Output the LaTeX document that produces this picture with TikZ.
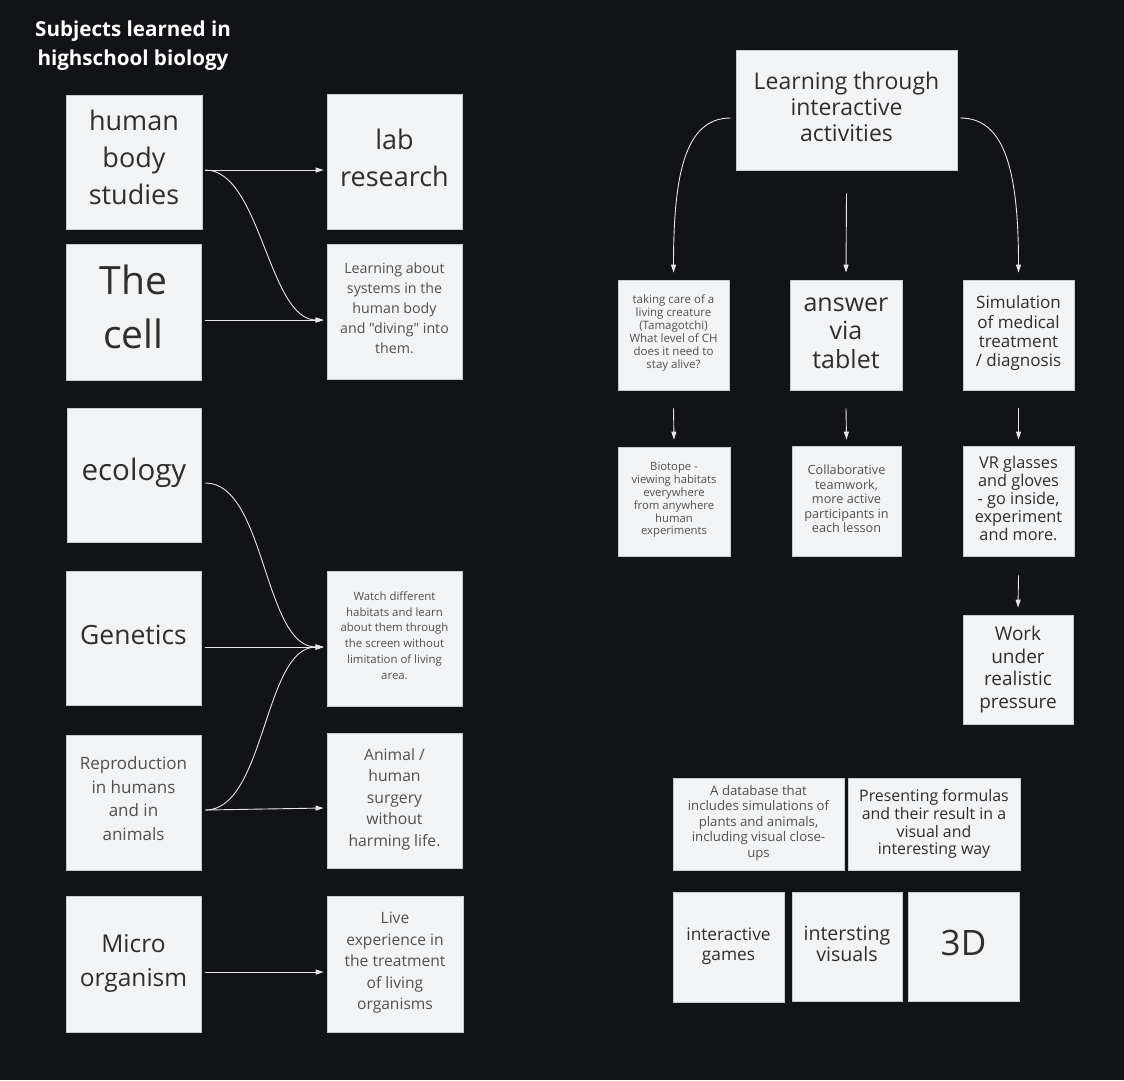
\documentclass[tikz,border=0pt]{standalone}
\usepackage{fontspec}
\setmainfont{Open Sans}[Ligatures=TeXOff]
\usetikzlibrary{arrows.meta,calc}
\definecolor{bg}{HTML}{121316}
\definecolor{boxfill}{HTML}{F2F3F5}
\definecolor{boxline}{HTML}{C9CACC}
\definecolor{txt}{HTML}{2E2E2E}
\definecolor{txtmid}{HTML}{505050}
\definecolor{arrowc}{HTML}{E6E6E6}
\newcommand{\myfs}[2]{\fontsize{#1}{#2}\selectfont}
\tikzset{
  card/.style n args={2}{draw=boxline, line width=0.8pt, fill=boxfill, inner sep=0pt,
    minimum width=#1, minimum height=#2},
  cardtext/.style={inner sep=0pt, align=center, text=txt},
  conn/.style={draw=arrowc, line width=0.9pt, -{Triangle[length=8pt,width=5pt]}}
}
\begin{document}
\begin{tikzpicture}[x=1pt,y=-1pt]
\fill[bg] (0,0) rectangle (1124,1080);
\node[text=white, font=\bfseries\myfs{20.6}{29}, align=center, inner sep=0pt] (title) at (133,46) {Subjects learned in\\highschool biology};

% left column boxes
\node[card={136pt}{134pt}] (hb) at (134,162) {};
\node[card={135pt}{135pt}] (lab) at (394.5,161.5) {};
\node[card={135pt}{136pt}] (cell) at (133.5,312) {};
\node[card={135pt}{135pt}] (learn) at (394.5,311.5) {};
\node[card={134pt}{134pt}] (eco) at (134,475) {};
\node[card={135pt}{134pt}] (gen) at (133.5,638) {};
\node[card={135pt}{135pt}] (watch) at (394.5,638.5) {};
\node[card={135pt}{135pt}] (rep) at (133.5,802.5) {};
\node[card={135pt}{135pt}] (animal) at (394.5,800.5) {};
\node[card={135pt}{136pt}] (micro) at (133.5,964) {};
\node[card={136pt}{136pt}] (live) at (395,964) {};

% left column texts
\node[cardtext, font=\myfs{27}{37}] (hbt) at ($(hb)+(0,-5)$) {human\\body\\studies};
\node[cardtext, font=\myfs{27}{37}] (labt) at ($(lab)+(0,-4)$) {lab\\research};
\node[cardtext, font=\myfs{39}{54}] (cellt) at ($(cell)+(0,-5)$) {The\\cell};
\node[cardtext, font=\myfs{14.2}{20}, text=txtmid] (learnt) at ($(learn)+(0,-3)$) {Learning about\\systems in the\\human body\\and "diving" into\\them.};
\node[cardtext, font=\myfs{29.5}{40}] (ecot) at ($(eco)+(0,-2)$) {ecology};
\node[cardtext, font=\myfs{26.5}{36}] (gent) at ($(gen)+(0,-3)$) {Genetics};
\node[cardtext, font=\myfs{11.4}{15.8}, text=txtmid] (watcht) at ($(watch)+(0,-3)$) {Watch different\\habitats and learn\\about them through\\the screen without\\limitation of living\\area.};
\node[cardtext, font=\myfs{17}{23.5}, text=txtmid] (rept) at ($(rep)+(0,-4)$) {Reproduction\\in humans\\and in\\animals};
\node[cardtext, font=\myfs{15.7}{21.5}, text=txtmid] (animalt) at ($(animal)+(0,-1.5)$) {Animal /\\human\\surgery\\without\\harming life.};
\node[cardtext, font=\myfs{24.5}{34}] (microt) at ($(micro)+(0,-1)$) {Micro\\organism};
\node[cardtext, font=\myfs{15.6}{21.5}, text=txtmid] (livet) at ($(live)+(0,-1)$) {Live\\experience in\\the treatment\\of living\\organisms};

% right side boxes
\node[card={221pt}{120pt}] (lia) at (846.5,110) {};
\node[card={111pt}{110pt}] (care) at (673.5,335) {};
\node[card={112pt}{110pt}] (tab) at (846,335) {};
\node[card={111pt}{110pt}] (sim) at (1018.5,335) {};
\node[card={112pt}{109pt}] (bio) at (674,501.5) {};
\node[card={109pt}{110pt}] (col) at (846.5,501) {};
\node[card={111pt}{110pt}] (vr) at (1018.5,501) {};
\node[card={110pt}{109pt}] (work) at (1018,669.5) {};
\node[card={171pt}{92pt}] (db) at (758.5,824) {};
\node[card={172pt}{92pt}] (pres) at (934,824) {};
\node[card={111pt}{110pt}] (games) at (728.5,947) {};
\node[card={110pt}{109pt}] (vis) at (847,946.5) {};
\node[card={111pt}{109pt}] (three) at (963.5,946.5) {};

% right side texts
\node[cardtext, font=\myfs{23}{26}] (liat) at ($(lia)+(0,-3)$) {Learning through\\interactive\\activities};
\node[cardtext, font=\myfs{11.5}{13}, text=txtmid] (caret) at ($(care)+(0,-2)$) {taking care of a\\living creature\\(Tamagotchi)\\What level of CH\\does it need to\\stay alive?};
\node[cardtext, font=\myfs{25}{28.5}] (tabt) at ($(tab)+(0,-2)$) {answer\\via\\tablet};
\node[cardtext, font=\myfs{17}{19.3}] (simt) at ($(sim)+(0,-1.5)$) {Simulation\\of medical\\treatment\\/ diagnosis};
\node[cardtext, font=\myfs{11.3}{12.8}, text=txtmid] (biot) at ($(bio)+(0,-1.5)$) {Biotope -\\viewing habitats\\everywhere\\from anywhere\\human\\experiments};
\node[cardtext, font=\myfs{12.7}{14.5}, text=txtmid] (colt) at ($(col)+(0,-2)$) {Collaborative\\teamwork,\\more active\\participants in\\each lesson};
\node[cardtext, font=\myfs{16.3}{18}] (vrt) at ($(vr)+(0,-3)$) {VR glasses\\and gloves\\- go inside,\\experiment\\and more.};
\node[cardtext, font=\myfs{19}{22.5}] (workt) at (work) {Work\\under\\realistic\\pressure};
\node[cardtext, font=\myfs{13.2}{15.5}, text=txtmid] (dbt) at ($(db)+(0,-1)$) {A database that\\includes simulations of\\plants and animals,\\including visual close-\\ups};
\node[cardtext, font=\myfs{15.9}{17.7}] (prest) at (pres) {Presenting formulas\\and their result in a\\visual and\\interesting way};
\node[cardtext, font=\myfs{17.3}{20}] (gamest) at ($(games)+(0,-1)$) {interactive\\games};
\node[cardtext, font=\myfs{19.6}{21}] (vist) at ($(vis)+(0,-3)$) {intersting\\visuals};
\node[cardtext, font=\myfs{35}{40}] (threet) at ($(three)+(0,-4)$) {3D};

% connectors left
\draw[conn] ($(hb.east)+(3,8)$) -- ($(lab.west)+(-3,8.5)$);
\draw[conn] ($(hb.east)+(3,8)$) .. controls +(55,0) and +(-55,0) .. ($(learn.west)+(-3,8.5)$);
\draw[conn] ($(cell.east)+(4,8)$) -- ($(learn.west)+(-3,8.5)$);
\draw[conn] ($(eco.east)+(4,8)$) .. controls +(60,0) and +(-60,0) .. ($(watch.west)+(-3,8.5)$);
\draw[conn] ($(gen.east)+(4,9)$) -- ($(watch.west)+(-3,8.5)$);
\draw[conn] ($(rep.east)+(4,7.5)$) .. controls +(60,0) and +(-60,0) .. ($(watch.west)+(-3,8.5)$);
\draw[conn] ($(rep.east)+(4,7.5)$) -- ($(animal.west)+(-3,7.5)$);
\draw[conn] ($(micro.east)+(4,8)$) -- ($(live.west)+(-3,8)$);

% connectors right
\draw[conn] ($(lia.west)+(-5,8)$) .. controls +(-45,0) and +(0,-100) .. ($(care.north)+(0,-7)$);
\draw[conn] ($(lia.south)+(0,23)$) -- ($(tab.north)+(0,-7)$);
\draw[conn] ($(lia.east)+(3,8)$) .. controls +(45,0) and +(0,-100) .. ($(sim.north)+(0,-7)$);
\draw[conn] ($(care.south)+(0,18)$) -- ($(bio.north)+(0,-7)$);
\draw[conn] ($(tab.south)+(0,18)$) -- ($(col.north)+(0,-6)$);
\draw[conn] ($(sim.south)+(0,18)$) -- ($(vr.north)+(0,-6)$);
\draw[conn] ($(vr.south)+(0,19)$) -- ($(work.north)+(0,-7)$);
\end{tikzpicture}
\end{document}
